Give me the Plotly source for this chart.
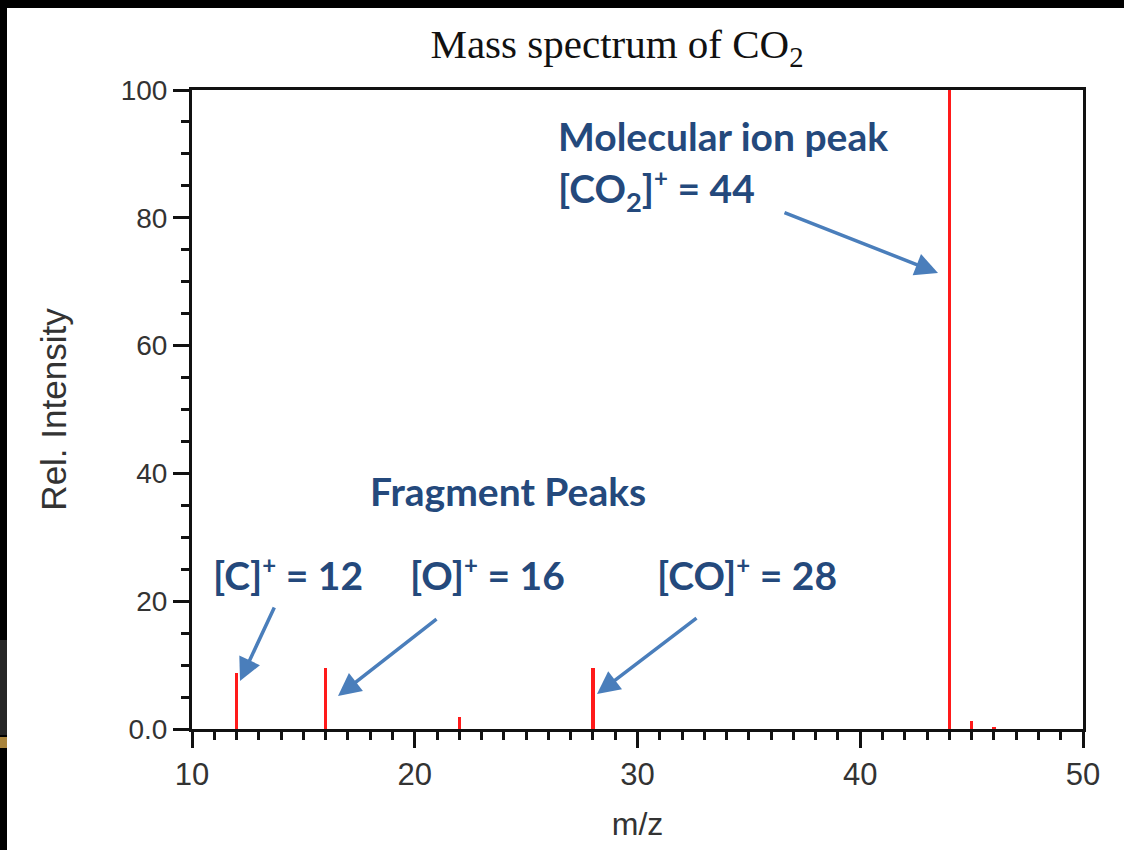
import plotly.graph_objects as go

# ---- data ----
mz = [12, 16, 22, 28, 44, 45, 46]
intensity = [8.7, 9.6, 1.9, 9.6, 100, 1.3, 0.3]

x_ticks = [10, 20, 30, 40, 50]
y_ticks = [0, 20, 40, 60, 80, 100]
y_ticklabels = ["0.0", "20", "40", "60", "80", "100"]

W, H = 1124, 850
L, R, T, B = 192, 41, 90, 121
X0, X1 = 10, 50
Y0, Y1 = 0, 100


def dx(px):
    return X0 + (px - L) / (W - L - R) * (X1 - X0)


def dy(py):
    return Y0 + (H - B - py) / (H - T - B) * (Y1 - Y0)


def paper_x(px):
    return (px - L) / (W - L - R)


def paper_y(py):
    return (H - B - py) / (H - T - B)


fig = go.Figure()
fig.add_trace(go.Bar(x=mz, y=intensity, width=0.15,
                     marker=dict(color="#ff1a1a", line=dict(width=0)),
                     showlegend=False, hoverinfo="x+y"))

text_color = "#24497c"
arrow_color = "#4a7ebb"
ann_font = dict(family="Lato, Open Sans, sans-serif", size=39, color=text_color, weight="bold")

SUP = "<sup><span style='font-size:24px'>+</span></sup>"
annotations = []
labels = [
    ("Molecular ion peak", 556, 136),
    ("[CO<sub>2</sub>]" + SUP + " = 44", 556, 190),
    ("Fragment Peaks", 368, 491),
    ("[C]" + SUP + " = 12", 211, 574),
    ("[O]" + SUP + " = 16", 408, 574),
    ("[CO]" + SUP + " = 28", 655, 574),
]
for txt, px, py in labels:
    annotations.append(dict(text=txt, x=dx(px), y=dy(py), xref="x", yref="y",
                            xanchor="left", yanchor="middle", showarrow=False,
                            font=ann_font))

# arrows: (tail px, tail py, head px, head py)
arrows = [
    (275, 606, 240, 681),
    (438, 618, 338, 696),
    (698, 617, 597, 694),
    (783, 212, 938, 273),
]
for tx, ty, hx, hy in arrows:
    annotations.append(dict(text="", x=dx(hx), y=dy(hy), ax=dx(tx), ay=dy(ty),
                            xref="x", yref="y", axref="x", ayref="y",
                            showarrow=True, arrowhead=2, arrowsize=1.3,
                            arrowwidth=3.5, arrowcolor=arrow_color))

shapes = [
    dict(type="rect", xref="paper", yref="paper", x0=paper_x(0), x1=paper_x(W),
         y0=paper_y(8), y1=paper_y(0), fillcolor="black", line=dict(width=0), layer="above"),
    dict(type="rect", xref="paper", yref="paper", x0=paper_x(0), x1=paper_x(7),
         y0=paper_y(H), y1=paper_y(0), fillcolor="black", line=dict(width=0), layer="above"),
    dict(type="rect", xref="paper", yref="paper", x0=paper_x(0), x1=paper_x(7),
         y0=paper_y(735), y1=paper_y(640), fillcolor="#262626", line=dict(width=0), layer="above"),
    dict(type="rect", xref="paper", yref="paper", x0=paper_x(0), x1=paper_x(7),
         y0=paper_y(748), y1=paper_y(737), fillcolor="#a9843c", line=dict(width=0), layer="above"),
]

axis_font = dict(family="Liberation Sans, Arial, sans-serif", color="#333333")

fig.update_layout(
    width=W, height=H,
    margin=dict(l=L, r=R, t=T, b=B, pad=0),
    paper_bgcolor="white", plot_bgcolor="white",
    title=dict(text="Mass spectrum of CO<sub>2</sub>", x=617 / W, xanchor="center",
               y=1 - 44 / H, yanchor="middle", xref="container", yref="container",
               font=dict(family="Liberation Serif, Times New Roman, serif", size=41, color="#111111")),
    xaxis=dict(range=[X0, X1], tickvals=x_ticks, ticks="outside", ticklen=16, tickwidth=3,
               tickcolor="#111111", showline=True, linecolor="#111111", linewidth=3, mirror=True,
               showgrid=False, zeroline=False,
               minor=dict(dtick=1, ticks="outside", ticklen=8, tickwidth=3, tickcolor="#111111"),
               tickfont=dict(size=31, **axis_font),
               title=dict(text="m/z", font=dict(size=32, **axis_font), standoff=22)),
    yaxis=dict(range=[Y0, Y1], tickvals=y_ticks, ticktext=y_ticklabels, ticks="outside",
               ticklen=16, tickwidth=3, tickcolor="#111111", showline=True, linecolor="#111111",
               linewidth=3, mirror=True, showgrid=False, zeroline=False,
               minor=dict(dtick=5, ticks="outside", ticklen=8, tickwidth=3, tickcolor="#111111"),
               tickfont=dict(size=28, **axis_font),
               title=dict(text="Rel. Intensity", font=dict(size=35, **axis_font), standoff=44)),
    annotations=annotations,
    shapes=shapes,
    bargap=0,
)

fig.write_html("out.html", config={"displayModeBar": False},
               post_script="document.body.style.margin='0';document.body.style.background='white';")
